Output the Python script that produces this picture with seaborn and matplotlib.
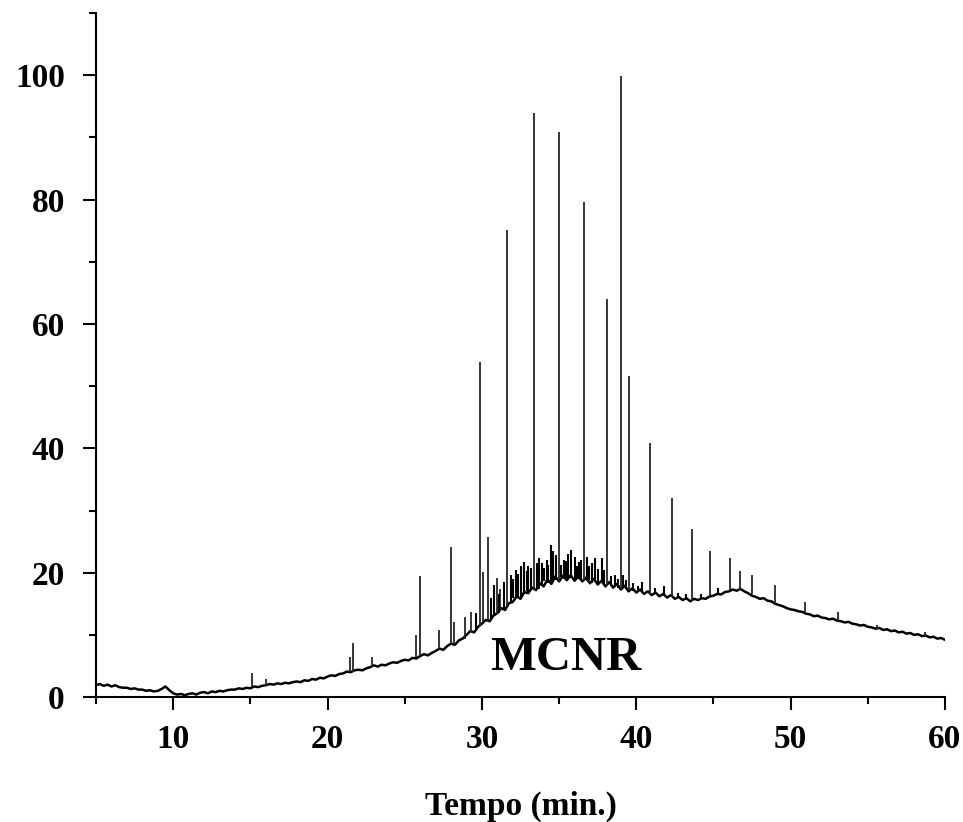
import numpy as np
import pandas as pd
import seaborn as sns
import matplotlib.pyplot as plt
from matplotlib.ticker import MultipleLocator

# Baseline (UCM hump) sampled every 0.25 min from 5 to 60 min
baseline_signal = [
    1.9, 2.1, 1.8, 2.0,  1.7, 1.9, 1.6, 1.5,  1.5, 1.3, 1.4, 1.2,  1.2, 1.0, 1.1, 0.9,
    1.0, 1.3, 1.7, 1.1,  0.6, 0.4, 0.5, 0.3,  0.5, 0.6, 0.4, 0.7,  0.8, 0.6, 0.9, 0.8,
    1.0, 0.9, 1.1, 1.2,  1.2, 1.4, 1.3, 1.5,  1.4, 1.7, 1.6, 1.8,  1.9, 2.1, 2.0, 2.2,
    2.1, 2.3, 2.2, 2.4,  2.5, 2.4, 2.7, 2.6,  2.9, 2.8, 3.1, 3.0,  3.3, 3.5, 3.4, 3.7,
    3.8, 4.1, 4.0, 4.3,  4.4, 4.3, 4.6, 4.8,  5.1, 4.9, 5.2, 5.1,  5.4, 5.6, 5.5, 5.8,
    6.0, 5.9, 6.3, 6.2,  6.6, 6.9, 6.7, 7.1,  7.4, 7.8, 7.6, 8.2,  8.6, 8.4, 9.1, 9.4,
    10.0, 10.6, 10.4, 11.3,  11.8, 12.4, 12.2, 13.1,  13.5, 14.3, 14.0, 15.1,
    15.3, 16.2, 15.8, 16.9,  16.7, 17.6, 17.2, 18.3,  17.8, 18.9, 18.2, 19.4,
    18.6, 19.5, 18.8, 19.6,  18.7, 19.4, 18.6, 19.2,  18.3, 19.0, 18.1, 18.7,
    17.8, 18.5, 17.6, 18.2,  17.3, 17.9, 17.0, 17.5,  16.8, 17.3, 16.6, 17.0,
    16.4, 16.8, 16.2, 16.6,  16.0, 16.4, 15.8, 16.1,  15.6, 15.9, 15.4, 15.8,
    15.6, 15.9, 15.8, 16.2,  16.3, 16.6, 16.5, 16.9,  17.0, 17.3, 17.1, 17.4,
    17.0, 16.7, 16.3, 16.1,  15.8, 15.9, 15.5, 15.4,  15.0, 14.8, 14.6, 14.3,
    14.1, 14.0, 13.8, 13.7,  13.4, 13.3, 13.0, 13.1,  12.8, 12.7, 12.5, 12.6,
    12.3, 12.2, 12.0, 12.1,  11.8, 11.7, 11.5, 11.6,  11.3, 11.2, 11.0, 11.1,
    10.8, 10.9, 10.6, 10.7,  10.4, 10.5, 10.2, 10.3,  10.0, 10.1, 9.8, 9.9,
    9.6, 9.7, 9.4, 9.5,  9.2,
]
baseline_time = np.linspace(5, 60, len(baseline_signal))

# Resolved peaks: retention time, foot level, apex level
peak_time = [15.1, 16.0, 21.45, 21.65, 22.9, 25.7, 26.0, 27.2, 28.0, 28.2, 28.9, 29.3,
             29.85, 30.1, 30.4, 31.0, 31.2, 31.64, 33.4, 35.0, 36.6, 38.1, 39.0, 39.56,
             40.9, 42.3, 43.6, 44.8, 46.05, 46.7, 47.5, 49.0, 50.9, 53.05, 55.6, 58.7]
peak_base = [1.6, 1.9, 4.0, 4.1, 4.9, 6.4, 6.6, 7.7, 8.6, 8.5, 9.4, 10.4,
             11.5, 11.9, 12.3, 13.4, 13.9, 14.8, 17.4, 18.6, 18.6, 17.8, 17.3, 17.0,
             16.6, 16.1, 15.5, 16.0, 17.2, 17.2, 16.5, 15.0, 13.5, 12.3, 11.0, 9.9]
peak_top = [3.8, 2.9, 6.5, 8.7, 6.4, 10.0, 19.5, 10.8, 24.1, 12.1, 12.8, 13.7,
            53.9, 20.1, 25.7, 19.1, 17.4, 75.1, 93.9, 90.9, 79.7, 64.0, 99.9, 51.6,
            40.8, 32.0, 27.0, 23.5, 22.3, 20.3, 19.6, 18.0, 15.3, 13.7, 11.6, 10.4]

# Unresolved small spikes riding on the hump
hump_time = [29.6, 30.6, 30.8, 31.1, 31.4, 31.9, 32.0, 32.2, 32.35, 32.5, 32.7, 32.9,
             33.0, 33.2, 33.55, 33.7, 33.9, 34.05, 34.2, 34.3, 34.45, 34.6, 34.8, 35.15,
             35.3, 35.45, 35.6, 35.8, 36.0, 36.15, 36.3, 36.45, 36.8, 36.95, 37.1, 37.3,
             37.55, 37.75, 37.9, 38.35, 38.6, 38.8, 39.15, 39.35, 39.8, 40.1, 40.4, 41.2,
             41.8, 42.7, 43.2, 44.2, 45.3]
hump_base = [10.8, 12.6, 13.0, 13.6, 14.2, 15.2, 16.0, 16.0, 15.9, 15.9, 16.5, 17.0,
             16.7, 17.4, 17.5, 17.3, 18.0, 18.6, 18.5, 18.3, 18.3, 18.5, 18.9, 19.3,
             19.0, 19.2, 19.0, 19.2, 18.8, 19.1, 19.0, 18.9, 18.6, 18.8, 18.3, 18.6,
             18.4, 18.5, 18.0, 17.8, 17.8, 17.6, 17.6, 17.3, 17.0, 17.0, 16.8, 16.6,
             16.3, 15.9, 15.6, 15.7, 16.4]
hump_top = [13.5, 16.0, 18.0, 16.5, 18.5, 19.6, 19.0, 20.5, 19.8, 21.0, 21.8, 20.2,
            21.0, 20.8, 21.5, 22.3, 21.5, 20.8, 22.0, 21.2, 24.4, 23.5, 22.8, 21.2,
            22.0, 21.9, 23.0, 23.6, 22.5, 21.0, 21.8, 22.0, 22.6, 21.0, 21.5, 22.4,
            20.6, 22.3, 20.5, 19.5, 19.6, 19.0, 19.6, 18.8, 18.4, 17.9, 18.5, 17.6,
            17.8, 16.8, 16.5, 16.6, 17.5]

x_ticks = [10, 20, 30, 40, 50, 60]
y_ticks = [0, 20, 40, 60, 80, 100]


def main():
    sns.set_style("ticks")
    plt.rcParams["font.family"] = ["Liberation Serif", "DejaVu Serif"]
    plt.rcParams["font.weight"] = "bold"
    for key in ["text.color", "axes.labelcolor", "xtick.color", "ytick.color"]:
        plt.rcParams[key] = "black"

    fig = plt.figure(figsize=(9.63, 8.22), dpi=100)
    ax = fig.add_axes([0.0997, 0.152, 0.8816, 0.832])

    trace = pd.DataFrame({"time": baseline_time, "signal": baseline_signal})
    sns.lineplot(data=trace, x="time", y="signal", ax=ax, color="black", lw=1.8)
    ax.vlines(peak_time, peak_base, peak_top, color="#262626", lw=1.3)
    ax.vlines(hump_time, hump_base, hump_top, color="black", lw=1.5)

    ax.text(30.5, 4.3, "MCNR", fontsize=35, fontweight="bold",
            ha="left", va="baseline")

    ax.set_xlim(5, 60)
    ax.set_ylim(0, 110)
    ax.set_xticks(x_ticks)
    ax.set_yticks(y_ticks)
    ax.xaxis.set_minor_locator(MultipleLocator(10, offset=5))
    ax.yaxis.set_minor_locator(MultipleLocator(20, offset=10))
    ax.tick_params(which="major", length=9.5, width=1.5, labelsize=24, color="black")
    ax.tick_params(axis="x", which="major", pad=10)
    ax.tick_params(axis="y", which="major", pad=13)
    ax.tick_params(which="minor", length=5, width=1.5, color="black")
    for lab in ax.get_xticklabels() + ax.get_yticklabels():
        lab.set_fontweight("bold")

    ax.set_xlabel("Tempo (min.)", fontsize=24, fontweight="bold", labelpad=26)
    ax.set_ylabel("")

    sns.despine(ax=ax)
    for side in ["left", "bottom"]:
        ax.spines[side].set_linewidth(1.5)
        ax.spines[side].set_color("black")

    fig.savefig("out.png", dpi=100, facecolor="white")


if __name__ == "__main__":
    main()
